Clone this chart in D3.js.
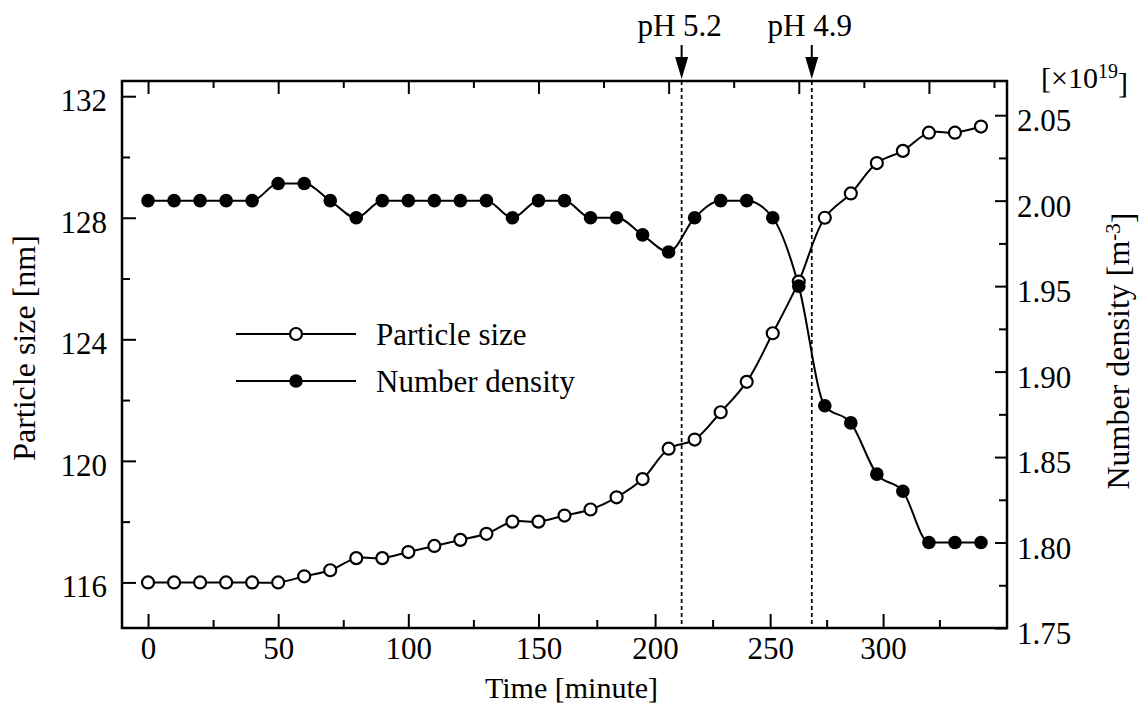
<!DOCTYPE html>
<html>
<head>
<meta charset="utf-8">
<script src="https://cdn.jsdelivr.net/npm/d3@7"></script>
<style>
  html, body { margin: 0; padding: 0; background: #ffffff; }
  svg { display: block; }
  text { font-family: "Liberation Serif", "Times New Roman", serif; fill: #000; }
</style>
</head>
<body>
<div id="chart"></div>
<script>
// ---------------- data ----------------
const times = [0, 10, 20, 30, 40, 50, 60, 70, 80, 90, 100, 110, 120, 130, 140, 150, 160,
               170, 180, 190, 200, 210, 220, 230, 240, 250, 260, 270, 280, 290, 300, 310, 320];
const particleSize = [116.0, 116.0, 116.0, 116.0, 116.0, 116.0, 116.2, 116.4, 116.8, 116.8,
                      117.0, 117.2, 117.4, 117.6, 118.0, 118.0, 118.2, 118.4, 118.8, 119.4,
                      120.4, 120.7, 121.6, 122.6, 124.2, 125.9, 128.0, 128.8, 129.8, 130.2,
                      130.8, 130.8, 131.0];
const numberDensity = [2.00, 2.00, 2.00, 2.00, 2.00, 2.01, 2.01, 2.00, 1.99, 2.00,
                       2.00, 2.00, 2.00, 2.00, 1.99, 2.00, 2.00, 1.99, 1.99, 1.98,
                       1.97, 1.99, 2.00, 2.00, 1.99, 1.95, 1.88, 1.87, 1.84, 1.83,
                       1.80, 1.80, 1.80];
const seriesNames = ["Particle size", "Number density"];
const phTimes = [205, 255];
const phLabels = ["pH 5.2", "pH 4.9"];

// tick labels
const xMajorTicks = [0, 50, 100, 150, 200, 250, 300];
const xMinorTicks = [25, 75, 125, 175, 225, 275, 325];
// the printed bottom axis of the original is compressed beyond 150 min
const bottomAxisKnots = [-10, 150, 200, 250, 300, 355];
const bottomAxisKnotTimes = [-10, 150, 194.8, 239.0, 282.4, 330];
const leftMajorTicks = [116, 120, 124, 128, 132];
const leftMinorTicks = [118, 122, 126, 130];
const rightMajorTicks = [1.75, 1.80, 1.85, 1.90, 1.95, 2.00, 2.05];
const rightMinorTicks = [1.775, 1.825, 1.875, 1.925, 1.975, 2.025];

// ---------------- layout ----------------
const W = 1144, H = 711;
const plot = { left: 122, right: 1007, top: 81, bottom: 628 };
const FONT_TICK = 31, FONT_LABEL = 30, FONT_YTITLE = 32, FONT_LEGEND = 31;

const svg = d3.select("#chart").append("svg")
  .attr("width", W).attr("height", H)
  .attr("viewBox", `0 0 ${W} ${H}`);
svg.append("rect").attr("width", W).attr("height", H).attr("fill", "#ffffff");

const x = d3.scaleLinear().domain([-10, 330]).range([plot.left, plot.right]);
const xBottom = d3.scaleLinear()
  .domain(bottomAxisKnots)
  .range(bottomAxisKnotTimes.map(t => x(t)));
const yL = d3.scaleLinear().domain([114.5, 132.5]).range([plot.bottom, plot.top]);
const yR = d3.scaleLinear().domain([1.75, 2.07]).range([plot.bottom, plot.top]);

function styleAxis(g, fontSize, dy) {
  g.select(".domain").remove();
  g.selectAll(".tick line").attr("stroke", "#000").attr("stroke-width", 2);
  g.selectAll(".tick text")
    .style("font-family", '"Liberation Serif", "Times New Roman", serif')
    .style("font-size", fontSize + "px")
    .attr("fill", "#000");
  if (dy !== undefined) g.selectAll(".tick text").attr("dy", dy);
}

// bottom axis
svg.append("g").attr("transform", `translate(0,${plot.bottom})`)
  .call(d3.axisBottom(xBottom).tickValues(xMajorTicks).tickSizeInner(-14).tickSizeOuter(0).tickPadding(9).tickFormat(d3.format("d")))
  .call(g => styleAxis(g, FONT_TICK));
svg.append("g").attr("transform", `translate(0,${plot.bottom})`)
  .call(d3.axisBottom(xBottom).tickValues(xMinorTicks).tickSizeInner(-8).tickSizeOuter(0).tickFormat(""))
  .call(g => styleAxis(g, FONT_TICK));
// top axis (mirror ticks)
svg.append("g").attr("transform", `translate(0,${plot.top})`)
  .call(d3.axisTop(x).tickValues(xMajorTicks).tickSizeInner(-13).tickSizeOuter(0).tickFormat(""))
  .call(g => styleAxis(g, FONT_TICK));
svg.append("g").attr("transform", `translate(0,${plot.top})`)
  .call(d3.axisTop(x).tickValues(xMinorTicks).tickSizeInner(-7).tickSizeOuter(0).tickFormat(""))
  .call(g => styleAxis(g, FONT_TICK));
// left axis
svg.append("g").attr("transform", `translate(${plot.left},0)`)
  .call(d3.axisLeft(yL).tickValues(leftMajorTicks).tickSizeInner(-14).tickSizeOuter(0).tickPadding(15).tickFormat(d3.format("d")))
  .call(g => styleAxis(g, FONT_TICK, "0.47em"));
svg.append("g").attr("transform", `translate(${plot.left},0)`)
  .call(d3.axisLeft(yL).tickValues(leftMinorTicks).tickSizeInner(-8).tickSizeOuter(0).tickFormat(""))
  .call(g => styleAxis(g, FONT_TICK));
// right axis
svg.append("g").attr("transform", `translate(${plot.right},0)`)
  .call(d3.axisRight(yR).tickValues(rightMajorTicks).tickSizeInner(-12).tickSizeOuter(0).tickPadding(10).tickFormat(d3.format(".2f")))
  .call(g => styleAxis(g, FONT_TICK, "0.5em"));
svg.append("g").attr("transform", `translate(${plot.right},0)`)
  .call(d3.axisRight(yR).tickValues(rightMinorTicks).tickSizeInner(-8).tickSizeOuter(0).tickFormat(""))
  .call(g => styleAxis(g, FONT_TICK));

// frame
svg.append("rect")
  .attr("x", plot.left).attr("y", plot.top)
  .attr("width", plot.right - plot.left).attr("height", plot.bottom - plot.top)
  .attr("fill", "none").attr("stroke", "#000").attr("stroke-width", 2.5);

// pH markers: dashed lines + arrows + labels
phTimes.forEach((t, i) => {
  const px = x(t);
  svg.append("line")
    .attr("x1", px).attr("x2", px)
    .attr("y1", plot.top).attr("y2", plot.bottom)
    .attr("stroke", "#000").attr("stroke-width", 1.7)
    .attr("stroke-dasharray", "4,3");
  svg.append("line")
    .attr("x1", px).attr("x2", px)
    .attr("y1", plot.top - 36).attr("y2", plot.top - 20)
    .attr("stroke", "#000").attr("stroke-width", 2);
  svg.append("path")
    .attr("d", `M${px - 6.5},${plot.top - 24} L${px + 6.5},${plot.top - 24} L${px},${plot.top - 2} Z`)
    .attr("fill", "#000");
  svg.append("text")
    .attr("x", px - 2).attr("y", plot.top - 45)
    .attr("text-anchor", "middle")
    .style("font-size", FONT_LEGEND + "px")
    .text(phLabels[i]);
});

// lines
const sizeLine = d3.line().x((d, i) => x(times[i])).y(d => yL(d)).curve(d3.curveCatmullRom.alpha(0.5));
const densLine = d3.line().x((d, i) => x(times[i])).y(d => yR(d)).curve(d3.curveMonotoneX);

svg.append("path").datum(particleSize).attr("d", sizeLine)
  .attr("fill", "none").attr("stroke", "#000").attr("stroke-width", 2);
svg.append("path").datum(numberDensity).attr("d", densLine)
  .attr("fill", "none").attr("stroke", "#000").attr("stroke-width", 2);

svg.append("g").selectAll("circle").data(particleSize).join("circle")
  .attr("cx", (d, i) => x(times[i])).attr("cy", d => yL(d))
  .attr("r", 6).attr("fill", "#fff").attr("stroke", "#000").attr("stroke-width", 2.2);
svg.append("g").selectAll("circle").data(numberDensity).join("circle")
  .attr("cx", (d, i) => x(times[i])).attr("cy", d => yR(d))
  .attr("r", 6.8).attr("fill", "#000");

// legend
const legend = svg.append("g");
const legendRows = [
  { name: seriesNames[0], open: true, y: 334 },
  { name: seriesNames[1], open: false, y: 381 }
];
legendRows.forEach(r => {
  legend.append("line").attr("x1", 236).attr("x2", 356).attr("y1", r.y).attr("y2", r.y)
    .attr("stroke", "#000").attr("stroke-width", 2);
  legend.append("circle").attr("cx", 296).attr("cy", r.y)
    .attr("r", r.open ? 6 : 6.8)
    .attr("fill", r.open ? "#fff" : "#000")
    .attr("stroke", r.open ? "#000" : "none").attr("stroke-width", 2.2);
  legend.append("text").attr("x", 376).attr("y", r.y).attr("dy", "0.35em")
    .style("font-size", FONT_LEGEND + "px").text(r.name);
});

// axis titles
svg.append("text")
  .attr("transform", `translate(${(plot.left + plot.right) / 2 + 7},698)`)
  .attr("text-anchor", "middle")
  .style("font-size", FONT_LABEL + "px")
  .text("Time [minute]");

svg.append("text")
  .attr("transform", `translate(24,348) rotate(-90)`)
  .attr("text-anchor", "middle").attr("dy", "0.35em")
  .style("font-size", FONT_YTITLE + "px")
  .text("Particle size [nm]");

const rt = svg.append("text")
  .attr("transform", `translate(1118,351) rotate(-90)`)
  .attr("text-anchor", "middle").attr("dy", "0.35em")
  .style("font-size", FONT_YTITLE + "px");
rt.append("tspan").text("Number density [m");
rt.append("tspan").attr("dy", "-0.45em").style("font-size", "21px").text("-3");
rt.append("tspan").attr("dy", "0.45em").text("]");

const mult = svg.append("text")
  .attr("x", 1041).attr("y", 88)
  .style("font-size", "30px");
mult.append("tspan").text("[\u00d710");
mult.append("tspan").attr("dy", "-0.5em").style("font-size", "20px").text("19");
mult.append("tspan").attr("dy", "0.5em").text("]");
</script>
</body>
</html>
